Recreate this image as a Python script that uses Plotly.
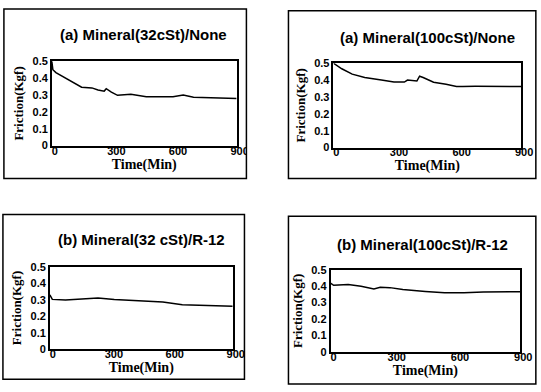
import plotly.graph_objects as go

W, H = 541, 392

# ---- data ----
titles = ["(a) Mineral(32cSt)/None", "(a) Mineral(100cSt)/None",
          "(b) Mineral(32 cSt)/R-12", "(b) Mineral(100cSt)/R-12"]

time_a32 = [0, 5, 20, 80, 145, 195, 225, 255, 265, 290, 320, 385, 460, 590, 640, 690, 900]
fric_a32 = [0.50, 0.45, 0.433, 0.39, 0.346, 0.342, 0.33, 0.323, 0.337, 0.317, 0.298, 0.304,
            0.29, 0.29, 0.30, 0.287, 0.279]

time_a100 = [0, 40, 90, 150, 230, 290, 340, 355, 400, 413, 430, 480, 540, 590, 620, 680, 900]
fric_a100 = [0.50, 0.467, 0.435, 0.415, 0.40, 0.388, 0.388, 0.40, 0.394, 0.423, 0.415, 0.387,
             0.375, 0.362, 0.362, 0.363, 0.362]

time_b32 = [0, 12, 77, 157, 237, 317, 396, 556, 652, 748, 900]
fric_b32 = [0.33, 0.302, 0.298, 0.302, 0.31, 0.302, 0.296, 0.286, 0.27, 0.265, 0.26]

time_b100 = [0, 15, 84, 145, 206, 236, 282, 343, 450, 541, 633, 725, 900]
fric_b100 = [0.418, 0.405, 0.41, 0.399, 0.383, 0.393, 0.391, 0.379, 0.368, 0.36, 0.36,
             0.364, 0.366]

x_ticks = [0, 300, 600, 900]
x_tick_labels = ["0", "300", "600", "900"]
y_ticks = [0, 0.1, 0.2, 0.3, 0.4, 0.5]
y_tick_labels = ["0", "0.1", "0.2", "0.3", "0.4", "0.5"]

x_title = "Time(Min)"
y_title = "Friction(Kgf)"

series = [(time_a32, fric_a32), (time_a100, fric_a100),
          (time_b32, fric_b32), (time_b100, fric_b100)]

# ---- layout geometry (pixels) ----
plots = [(53, 242, 57, 144), (341, 533, 59, 146), (51, 238, 269, 354), (338, 532, 272, 357)]
boxes = [(4, 252, 3, 178), (295, 548, 5, 178), (3, 250, 215, 385), (295, 548, 217, 390)]
title_pos = [(147, 29), (437, 33), (145, 241), (432, 246)]


def px(x):
    return x / W


def py(y):
    return 1 - y / H


fig = go.Figure()
layout = dict(width=W, height=H, margin=dict(l=0, r=0, t=0, b=0),
              paper_bgcolor="white", plot_bgcolor="white", showlegend=False)

shapes = []
annotations = []
for i, ((t, f), (x0, x1, y0, y1)) in enumerate(zip(series, plots)):
    n = "" if i == 0 else str(i + 1)
    fig.add_trace(go.Scatter(x=t, y=f, mode="lines", line=dict(color="black", width=1.5),
                             xaxis="x" + n, yaxis="y" + n))
    layout["xaxis" + n] = dict(
        domain=[px(x0), px(x1)], anchor="y" + n, range=[0, 900],
        tickvals=x_ticks, ticktext=x_tick_labels, showgrid=False, zeroline=False,
        showline=True, mirror=True, linecolor="black", linewidth=1.5, ticks="",
        ticklabelstandoff=-6, ticklabelshift=3,
        tickfont=dict(family="Liberation Sans", size=11, color="black", weight="bold"),
        title=dict(text=x_title, standoff=3,
                   font=dict(family="Liberation Serif", size=14, color="black", weight="bold")),
    )
    layout["yaxis" + n] = dict(
        domain=[py(y1), py(y0)], anchor="x" + n, range=[0, 0.5],
        tickvals=y_ticks, ticktext=y_tick_labels, showgrid=False, zeroline=False,
        showline=True, mirror=True, linecolor="black", linewidth=1.5, ticks="",
        tickfont=dict(family="Liberation Sans", size=11, color="black", weight="bold"),
        title=dict(text=y_title, standoff=6,
                   font=dict(family="Liberation Serif", size=13, color="black", weight="bold")),
    )
    tx, ty = title_pos[i]
    annotations.append(dict(text=titles[i], x=px(tx), y=py(ty), xref="paper", yref="paper",
                            xanchor="center", yanchor="middle", showarrow=False,
                            font=dict(family="Liberation Sans", size=15, color="black",
                                      weight="bold")))

# white patches clip the "900" labels at the box edge of the left panels
for (bx0, bx1, by0, by1) in [boxes[0], boxes[2]]:
    shapes.append(dict(type="rect", xref="paper", yref="paper", layer="above",
                       x0=px(bx1), x1=px(bx1 + 14), y0=py(by1 - 10), y1=py(by0 + 120),
                       fillcolor="white", line=dict(width=0)))

for (bx0, bx1, by0, by1) in boxes:
    shapes.append(dict(type="rect", xref="paper", yref="paper", layer="above",
                       x0=px(bx0), x1=px(bx1), y0=py(by1), y1=py(by0),
                       line=dict(color="black", width=1.5)))

layout["shapes"] = shapes
layout["annotations"] = annotations
fig.update_layout(**layout)
fig.write_html("out.html", config={"displayModeBar": False},
               post_script="document.body.style.margin='0';document.body.style.overflow='hidden';")
